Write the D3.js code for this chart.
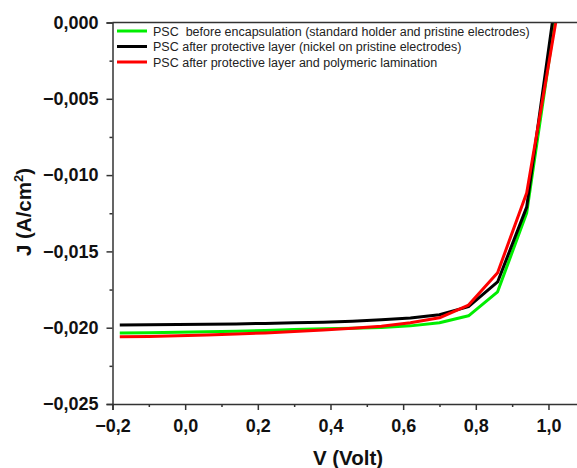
<!DOCTYPE html>
<html>
<head>
<meta charset="utf-8">
<script src="https://cdn.jsdelivr.net/npm/d3@7"></script>
<style>
  body { margin: 0; background: #fff; }
  svg { display: block; font-family: "Liberation Sans", Arial, sans-serif; }
</style>
</head>
<body>
<div id="chart"></div>
<script>
'use strict';

/* chart data */
var voltage = [-0.18, -0.10, -0.02, 0.06, 0.14, 0.22, 0.30, 0.38, 0.46, 0.54, 0.62, 0.70, 0.78, 0.86, 0.94, 1.02];
var beforeEncap = [-0.02035, -0.02033, -0.0203, -0.02027, -0.02023, -0.02018, -0.02012, -0.02007, -0.02003, -0.01998, -0.01988, -0.01968, -0.01922, -0.01765, -0.01248, 0.0005];
var afterLayer = [-0.01982, -0.0198, -0.01979, -0.01977, -0.01975, -0.01972, -0.01968, -0.01964, -0.01958, -0.01948, -0.01936, -0.01915, -0.01862, -0.0170, -0.0121, 0.0016];
var afterLamination = [-0.0206, -0.02057, -0.02053, -0.02048, -0.02042, -0.02034, -0.02025, -0.02015, -0.02004, -0.0199, -0.01968, -0.01935, -0.01852, -0.0164, -0.01117, 0.0];
var seriesNames = [
  'PSC  before encapsulation (standard holder and pristine electrodes)',
  'PSC after protective layer (nickel on pristine electrodes)',
  'PSC after protective layer and polymeric lamination'
];
var seriesColors = ['#00ee00', '#000000', '#ff0000'];
var xTicks = [-0.2, 0.0, 0.2, 0.4, 0.6, 0.8, 1.0];
var xMinor = [-0.1, 0.1, 0.3, 0.5, 0.7, 0.9];
var yTicks = [0, -0.005, -0.01, -0.015, -0.02, -0.025];
var yMinor = [-0.0025, -0.0075, -0.0125, -0.0175, -0.0225];

var width = 577;
var height = 468;
var axisColor = '#333';

var svg = d3.select('#chart')
  .append('svg')
  .attr('width', width)
  .attr('height', height);

var x = d3.scaleLinear().domain([-0.2, 1.1]).range([112.5, 584.8]);
var y = d3.scaleLinear().domain([-0.025, 0]).range([404, 22.5]);

function fmt(v, digits) {
  var s = Math.abs(v).toFixed(digits).replace('.', ',');
  return (v < -1e-9 ? '\u2212' : '') + s;
}

/* clip so the curves stop at the top frame */
svg.append('clipPath').attr('id', 'plotClip')
  .append('rect')
  .attr('x', x(-0.2)).attr('y', y(0))
  .attr('width', width - x(-0.2)).attr('height', y(-0.025) - y(0));

/* curves */
var data = [beforeEncap, afterLayer, afterLamination];
var line = d3.line()
  .x(function(d, i) { return x(voltage[i]); })
  .y(function(d) { return y(d); });

svg.append('g')
  .attr('clip-path', 'url(#plotClip)')
  .selectAll('path')
  .data(data)
  .enter()
  .append('path')
  .attr('d', line)
  .attr('fill', 'none')
  .attr('stroke', function(d, i) { return seriesColors[i]; })
  .attr('stroke-width', 3)
  .attr('stroke-linejoin', 'round');

/* x axis */
svg.append('g')
  .attr('transform', 'translate(0,' + y(-0.025) + ')')
  .call(d3.axisBottom(x).tickValues(xTicks).tickSize(6).tickPadding(9)
    .tickFormat(function(d) { return fmt(d, 1); }));
svg.append('g')
  .attr('transform', 'translate(0,' + y(-0.025) + ')')
  .call(d3.axisBottom(x).tickValues(xMinor).tickSize(3).tickFormat(''))
  .select('.domain').remove();

/* y axis */
svg.append('g')
  .attr('transform', 'translate(' + x(-0.2) + ',0)')
  .call(d3.axisLeft(y).tickValues(yTicks).tickSize(6).tickPadding(8)
    .tickFormat(function(d) { return fmt(d, 3); }));
svg.append('g')
  .attr('transform', 'translate(' + x(-0.2) + ',0)')
  .call(d3.axisLeft(y).tickValues(yMinor).tickSize(3).tickFormat(''))
  .select('.domain').remove();

svg.selectAll('.domain, .tick line')
  .attr('stroke', axisColor)
  .attr('stroke-width', 1.5);
svg.selectAll('.tick text')
  .attr('fill', '#111')
  .style('font-size', '18px')
  .style('font-weight', 'bold')
  .style('font-family', '"Liberation Sans", Arial, sans-serif');

/* top frame line */
svg.append('line')
  .attr('x1', x(-0.2)).attr('x2', width)
  .attr('y1', y(0)).attr('y2', y(0))
  .attr('stroke', axisColor)
  .attr('stroke-width', 1.5);

/* axis titles */
svg.append('text')
  .attr('x', 348)
  .attr('y', 465)
  .attr('text-anchor', 'middle')
  .style('font-size', '20.5px')
  .style('font-weight', 'bold')
  .attr('fill', '#111')
  .text('V (Volt)');

var yTitle = svg.append('text')
  .attr('transform', 'translate(31,212) rotate(-90)')
  .attr('text-anchor', 'middle')
  .style('font-size', '20.5px')
  .style('font-weight', 'bold')
  .attr('fill', '#111');
yTitle.append('tspan').text('J (A/cm');
yTitle.append('tspan').attr('dy', -8).style('font-size', '13px').text('2');
yTitle.append('tspan').attr('dy', 8).text(')');

/* legend */
var legend = svg.selectAll('.legend')
  .data(seriesNames)
  .enter()
  .append('g')
  .attr('class', 'legend')
  .attr('transform', function(d, i) {
    return 'translate(117,' + (31 + i * 15.5) + ')';
  });
legend.append('line')
  .attr('x1', 0).attr('x2', 30)
  .attr('stroke', function(d, i) { return seriesColors[i]; })
  .attr('stroke-width', 3);
legend.append('text')
  .attr('x', 36)
  .attr('y', 4.5)
  .style('font-size', '12.5px')
  .style('white-space', 'pre')
  .attr('fill', '#222')
  .text(function(d) { return d; });
</script>
</body>
</html>
